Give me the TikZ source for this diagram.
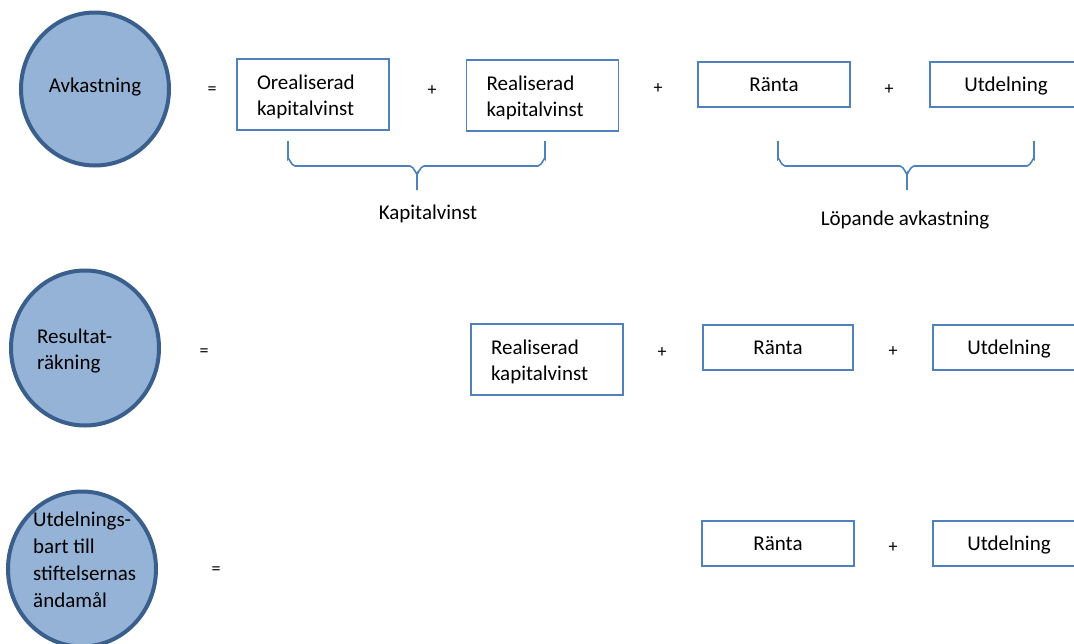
\documentclass[tikz,border=0pt]{standalone}
\usepackage{fontspec}
\setmainfont{Carlito}
\usetikzlibrary{shapes.geometric}
\definecolor{circfill}{HTML}{95B3D7}
\definecolor{circline}{HTML}{3A5F8D}
\definecolor{boxline}{HTML}{4F81BD}
\begin{document}
\begin{tikzpicture}[x=1pt,y=-1pt,
  every node/.style={font=\fontsize{21}{26}\selectfont, inner sep=0pt},
  bigcirc/.style={ellipse, draw=circline, fill=circfill, line width=4pt, minimum width=148pt, minimum height=153pt},
  tallbox/.style={draw=boxline, line width=1.6pt, minimum width=152pt, minimum height=71pt, text width=112pt, align=left, execute at begin node={\rule{0pt}{20pt}}},
  flatbox/.style={draw=boxline, line width=1.6pt, minimum width=152pt, minimum height=45pt, text height=16pt, text depth=2pt},
  brace/.style={draw=boxline, line width=1.6pt},
  optext/.style={font=\fontsize{18}{20}\selectfont}]
\useasboundingbox (0,0) rectangle (1074,643);
\clip (0,0) rectangle (1074,643);
\fill[white] (0,0) rectangle (1074,643);
% Row 1
\node[bigcirc] (c1) at (95,89) {};
\node (c1t) at (95,87) {Avkastning};
\node[optext] (eq1) at (212,91) {=};
\node[tallbox] (b11) at (313,94.5) {Orealiserad\\kapitalvinst};
\node[optext] (p11) at (432,91) {+};
\node[tallbox] (b12) at (542.5,95.5) {Realiserad\\kapitalvinst};
\node[optext] (p12) at (658,89) {+};
\node[flatbox] (b13) at (774,84.5) {Ränta};
\node[optext] (p13) at (889,90) {+};
\node[flatbox] (b14) at (1006,84.5) {Utdelning};
\draw[brace] (288,141) -- (288,159) to[out=90,in=180] (295,166) -- (410,166) to[out=0,in=-90] (417,173) -- (417,190);
\draw[brace] (545,141) -- (545,159) to[out=90,in=0] (538,166) -- (424,166) to[out=180,in=-90] (417,173);
\node (kv) at (428,214) {Kapitalvinst};
\draw[brace] (778,141) -- (778,159) to[out=90,in=180] (785,166) -- (900,166) to[out=0,in=-90] (907,173) -- (907,190);
\draw[brace] (1034,141) -- (1034,159) to[out=90,in=0] (1027,166) -- (914,166) to[out=180,in=-90] (907,173);
\node (la) at (905,220) {Löpande avkastning};
% Row 2
\node[bigcirc, minimum height=155pt] (c2) at (85,348) {};
\node[anchor=west, align=left] (c2t) at (37,351) {Resultat-\\räkning};
\node[optext] (eq2) at (204,353) {=};
\node[tallbox] (b21) at (547,359.5) {Realiserad\\kapitalvinst};
\node[optext] (p21) at (662,353) {+};
\node[flatbox, minimum width=150pt] (b22) at (778,347.5) {Ränta};
\node[optext] (p22) at (893,352) {+};
\node[flatbox] (b23) at (1009,347.5) {Utdelning};
% Row 3
\node[bigcirc, minimum height=155pt] (c3) at (82,569) {};
\node[anchor=west, align=left, font=\fontsize{21}{27}\selectfont] (c3t) at (33,560) {Utdelnings-\\bart till\\stiftelsernas\\ändamål};
\node[optext] (eq3) at (216,571) {=};
\node[flatbox] (b31) at (778,543.5) {Ränta};
\node[optext] (p31) at (893,548) {+};
\node[flatbox] (b32) at (1009,543.5) {Utdelning};
\end{tikzpicture}
\end{document}
